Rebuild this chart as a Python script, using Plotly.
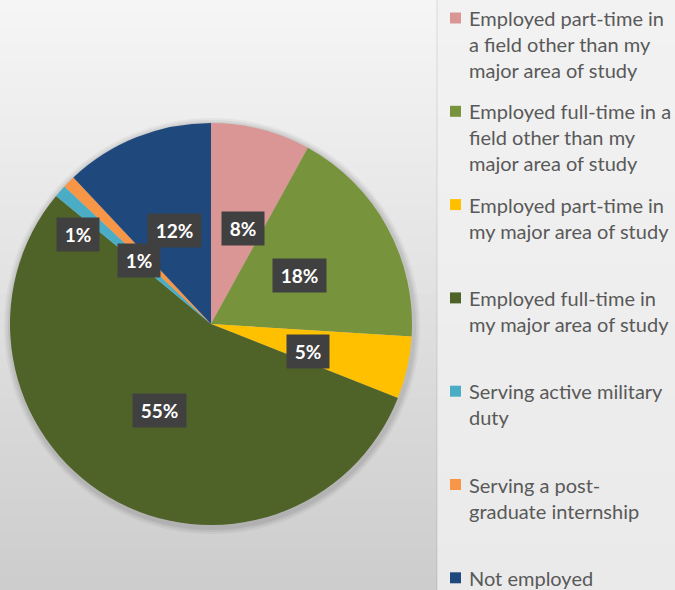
import math
import plotly.graph_objects as go

# ---------------- data ----------------
categories = [
    "Employed part-time in a field other than my major area of study",
    "Employed full-time in a field other than my major area of study",
    "Employed part-time in my major area of study",
    "Employed full-time in my major area of study",
    "Serving active military duty",
    "Serving a post-graduate internship",
    "Not employed",
]
values = [8, 18, 5, 55, 1, 1, 12]
colors = ["#D99694", "#77933C", "#FFC000", "#4F6228", "#4BACC6", "#F79646", "#1F497D"]
legend_lines = [
    ["Employed part-time in", "a field other than my", "major area of study"],
    ["Employed full-time in a", "field other than my", "major area of study"],
    ["Employed part-time in", "my major area of study"],
    ["Employed full-time in", "my major area of study"],
    ["Serving active military", "duty"],
    ["Serving a post-", "graduate internship"],
    ["Not employed"],
]
# label placement (fraction of radius, angular nudge in degrees)
label_r = [0.5, 0.5, 0.5, 0.5, 0.48, 0.8, 0.5]
label_dang = [4, 0, 3, 0, 0, -11, 0]

# ---------------- layout constants ----------------
W, H = 675, 590
dom_x = [10 / W, 412 / W]
dom_y = [65 / H, 467 / H]
panel_x = 437

fig = go.Figure()
fig.add_trace(go.Pie(
    labels=categories,
    values=values,
    marker=dict(colors=colors, line=dict(width=0)),
    sort=False,
    direction="clockwise",
    rotation=0,
    textinfo="none",
    hoverinfo="label+percent",
    showlegend=False,
    domain=dict(x=dom_x, y=dom_y),
))

shapes = []
# background gradient (left area)
n = 40
top_c, bot_c = 245, 205
for i in range(n):
    c = round(top_c + (bot_c - top_c) * i / (n - 1))
    shapes.append(dict(type="rect", xref="paper", yref="paper", layer="below",
                       x0=0, x1=panel_x / W, y0=1 - (i + 1) / n, y1=1 - i / n + 0.001,
                       fillcolor=f"rgb({c},{c},{c})", line=dict(width=0)))
# legend panel
for i in range(n):
    c = round(242 + (234 - 242) * i / (n - 1))
    shapes.append(dict(type="rect", xref="paper", yref="paper", layer="below",
                       x0=panel_x / W, x1=1, y0=1 - (i + 1) / n, y1=1 - i / n + 0.001,
                       fillcolor=f"rgb({c},{c},{c})", line=dict(width=0)))
shapes.append(dict(type="line", xref="paper", yref="paper", layer="below",
                   x0=panel_x / W, x1=panel_x / W, y0=0, y1=1,
                   line=dict(color="rgba(0,0,0,0.05)", width=2)))

# soft shadow around pie
cx = (dom_x[0] + dom_x[1]) / 2 * W
cy_b = (dom_y[0] + dom_y[1]) / 2 * H
R = min((dom_x[1] - dom_x[0]) * W, (dom_y[1] - dom_y[0]) * H) / 2
for k, a in [(7, 0.04), (5, 0.05), (3, 0.06)]:
    shapes.append(dict(type="circle", xref="paper", yref="paper", layer="below",
                       x0=(cx - R - k + 1) / W, x1=(cx + R + k + 1) / W,
                       y0=(cy_b - R - k - 2) / H, y1=(cy_b + R + k - 2) / H,
                       fillcolor=f"rgba(0,0,0,{a})", line=dict(width=0)))

annotations = []
# data labels
total = sum(values)
cum = 0
for v, rf, da in zip(values, label_r, label_dang):
    theta = math.radians(360 * (cum + v / 2) / total + da)
    cum += v
    xpx = cx + rf * R * math.sin(theta)
    ypx = cy_b + rf * R * math.cos(theta)
    txt = f"{v}%"
    annotations.append(dict(
        x=xpx / W, y=ypx / H, xref="paper", yref="paper",
        text=f"<b>{txt}</b>", showarrow=False,
        font=dict(family="Lato, Open Sans, sans-serif", size=19, color="white"),
        bgcolor="#404040", width=18 + 11 * len(txt), height=31,
        xanchor="center", yanchor="middle",
    ))

# legend (manual)
item_top = 18
item_step = 93.3
line_h = 26
for k, (lines, col) in enumerate(zip(legend_lines, colors)):
    y0 = item_top + k * item_step
    shapes.append(dict(type="rect", xref="paper", yref="paper",
                       x0=450 / W, x1=461 / W,
                       y0=1 - (y0 + 5.5) / H, y1=1 - (y0 - 5.5) / H,
                       fillcolor=col, line=dict(width=0)))
    for j, ln in enumerate(lines):
        annotations.append(dict(
            x=467 / W, y=1 - (y0 + j * line_h) / H, xref="paper", yref="paper",
            text=ln, showarrow=False, xanchor="left", yanchor="middle",
            font=dict(family="Lato, Open Sans, sans-serif", size=20, color="#595959"),
        ))

fig.update_layout(
    width=W, height=H,
    margin=dict(l=0, r=0, t=0, b=0),
    paper_bgcolor="#e6e6e6",
    plot_bgcolor="#e6e6e6",
    shapes=shapes,
    annotations=annotations,
    showlegend=False,
)

fig.write_html(
    "out.html",
    config={"displayModeBar": False},
    post_script="document.body.style.margin='0';document.body.style.padding='0';document.body.style.overflow='hidden';",
)
